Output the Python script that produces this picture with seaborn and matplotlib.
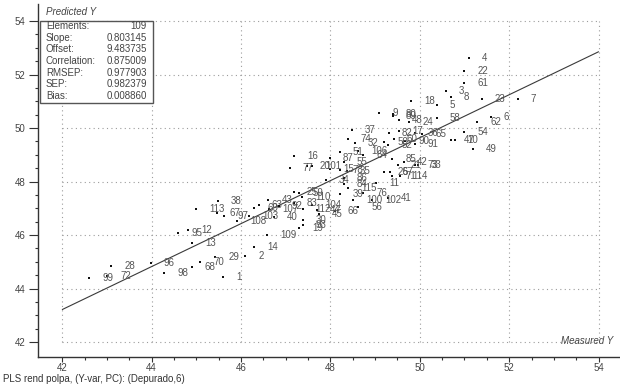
import matplotlib
matplotlib.use("Agg")
import matplotlib.pyplot as plt
from matplotlib.patches import Rectangle
import numpy as np
import pandas as pd
import seaborn as sns

# Sample ids with measured and PLS-predicted values
sample_ids = [99, 72, 28, 96, 98, 68, 70, 29, 1, 2,
              14, 109, 13, 95, 12, 113, 38, 67, 97, 108,
              103, 69, 63, 43, 107, 92, 40, 16, 77, 25,
              59, 110, 83, 112, 30, 19, 93, 104, 44, 45,
              66, 20, 101, 87, 51, 55, 15, 78, 35, 34,
              86, 84, 39, 115, 100, 56, 76, 102, 41, 11,
              37, 74, 32, 106, 64, 9, 80, 89, 48, 24,
              17, 82, 50, 60, 52, 90, 91, 36, 65, 85,
              42, 21, 73, 33, 26, 57, 71, 114, 18, 5,
              3, 8, 4, 22, 61, 23, 7, 58, 62, 6,
              54, 47, 10, 49]
measured = [42.60, 43.00, 43.09, 43.98, 44.28, 44.90, 45.08, 45.42, 45.60, 46.09,
            46.29, 46.58, 44.90, 44.59, 44.81, 44.99, 45.48, 45.46, 45.62, 45.91,
            46.18, 46.29, 46.40, 46.61, 46.63, 46.84, 46.74, 47.18, 47.09, 47.18,
            47.30, 47.36, 47.18, 47.38, 47.38, 47.30, 47.38, 47.59, 47.70, 47.74,
            48.10, 47.47, 47.59, 47.99, 48.21, 48.30, 47.99, 48.21, 48.37, 47.90,
            48.30, 48.30, 48.21, 48.39, 48.50, 48.62, 48.73, 48.93, 49.29, 49.02,
            48.48, 48.39, 48.55, 48.62, 48.73, 49.09, 49.40, 49.40, 49.53, 49.76,
            49.53, 49.31, 49.20, 49.42, 49.29, 49.67, 49.89, 49.89, 50.05, 49.38,
            49.64, 49.51, 49.89, 49.96, 49.20, 49.33, 49.38, 49.55, 49.81, 50.38,
            50.58, 50.69, 51.10, 50.99, 50.99, 51.39, 52.19, 50.38, 51.28, 51.59,
            50.99, 50.69, 50.78, 51.19]
predicted = [44.39, 44.47, 44.84, 44.95, 44.58, 44.80, 44.99, 45.18, 44.43, 45.21,
             45.55, 46.00, 45.70, 46.07, 46.19, 46.97, 47.27, 46.82, 46.71, 46.52,
             46.71, 47.01, 47.12, 47.31, 46.97, 47.08, 46.67, 48.95, 48.50, 47.61,
             47.57, 47.42, 47.20, 46.97, 46.56, 46.26, 46.37, 47.12, 46.93, 46.79,
             46.90, 48.58, 48.58, 48.88, 49.10, 48.73, 48.47, 48.43, 48.39, 48.06,
             48.13, 47.91, 47.53, 47.76, 47.31, 47.05, 47.57, 47.31, 47.38, 47.94,
             49.93, 49.59, 49.44, 49.14, 48.99, 50.56, 50.52, 50.45, 50.30, 50.22,
             49.89, 49.81, 49.48, 49.59, 49.36, 49.51, 49.40, 49.81, 49.78, 48.84,
             48.73, 48.62, 48.62, 48.62, 48.36, 48.36, 48.21, 48.21, 51.01, 50.86,
             51.38, 51.16, 52.62, 52.13, 51.68, 51.08, 51.08, 50.37, 50.22, 50.41,
             49.85, 49.55, 49.55, 49.22]

# Regression summary
slope = 0.803145
offset = 9.483735
stat_names = ["Elements:", "Slope:", "Offset:", "Correlation:", "RMSEP:", "SEP:", "Bias:"]
stat_values = ["109", "0.803145", "9.483735", "0.875009", "0.977903", "0.982379", "0.008860"]

major_ticks = [42, 44, 46, 48, 50, 52, 54]
minor_ticks = np.arange(42, 54.01, 0.5)

df = pd.DataFrame({"id": sample_ids, "measured": measured, "predicted": predicted})

sns.set_style("white")
plt.rcParams["font.family"] = ["Liberation Sans", "DejaVu Sans"]

W, H = 620, 387
fig = plt.figure(figsize=(W / 100, H / 100), dpi=100)
fig.patch.set_facecolor("white")
ax = fig.add_axes([38 / W, 1 - 357 / H, 1 - 38 / W, (357 - 4) / H])
ax.set_facecolor("white")
ax.set_xlim(41.456, 54.48)
ax.set_ylim(41.44, 54.64)

# dotted grid confined to the 42..54 square
grid_kw = dict(colors="#9c9c9c", linestyles=(0, (1, 3)), linewidth=0.8, zorder=0)
ax.hlines(major_ticks, 42, 54, **grid_kw)
ax.vlines(major_ticks, 42, 54, **grid_kw)

# fitted line
line_x = np.array([42.0, 54.0])
sns.lineplot(x=line_x, y=slope * line_x + offset, ax=ax, color="#3a3a3a",
             linewidth=0.8, zorder=2)

sns.scatterplot(data=df, x="measured", y="predicted", ax=ax, s=2, marker="s",
                color="#111111", linewidth=0, zorder=3)

for sid, mx, py in zip(df["id"], df["measured"], df["predicted"]):
    ax.annotate(str(sid), (mx, py), xytext=(9.4, 0), textcoords="offset points",
                fontsize=7, color="#555555", ha="left", va="center", zorder=4)

ax.set_xlabel("")
ax.set_ylabel("")
ax.set_xticks(major_ticks)
ax.set_xticks(minor_ticks, minor=True)
ax.set_yticks(major_ticks)
ax.set_yticks(minor_ticks, minor=True)
ax.tick_params(axis="x", which="major", direction="out", length=3.6, width=0.8,
               color="#333333", labelsize=7, labelcolor="#444444", pad=1)
ax.tick_params(axis="x", which="minor", direction="out", length=2.2, width=0.8,
               color="#333333")
ax.tick_params(axis="y", which="major", direction="out", length=6.5, width=0.8,
               color="#333333", labelsize=7, labelcolor="#444444", pad=2.5)
ax.tick_params(axis="y", which="minor", direction="out", length=2.5, width=0.8,
               color="#333333")
ax.tick_params(bottom=True, left=True, which="both")

for side in ("top", "right"):
    ax.spines[side].set_visible(False)
for side in ("left", "bottom"):
    ax.spines[side].set_color("#333333")
    ax.spines[side].set_linewidth(1.0)

# statistics box
fig.add_artist(Rectangle((40 / W, 1 - 103 / H), 113 / W, 82 / H,
                         transform=fig.transFigure, facecolor="white",
                         edgecolor="#555555", linewidth=1.0, zorder=5))
for i, (name, val) in enumerate(zip(stat_names, stat_values)):
    yy = 1 - (26 + 11.67 * i) / H
    fig.text(46 / W, yy, name, fontsize=7, color="#444444", va="center", ha="left", zorder=6)
    fig.text(147 / W, yy, val, fontsize=7, color="#444444", va="center", ha="right", zorder=6)

fig.text(46 / W, 1 - 12 / H, "Predicted Y", fontsize=7, style="italic",
         color="#444444", va="center", ha="left")
fig.text(613 / W, 1 - 341 / H, "Measured Y", fontsize=7, style="italic",
         color="#444444", va="center", ha="right")
fig.text(3 / W, 1 - 379 / H, "PLS rend polpa, (Y-var, PC): (Depurado,6)",
         fontsize=7, color="#333333", va="center", ha="left")

fig.savefig("out.png", dpi=100)
